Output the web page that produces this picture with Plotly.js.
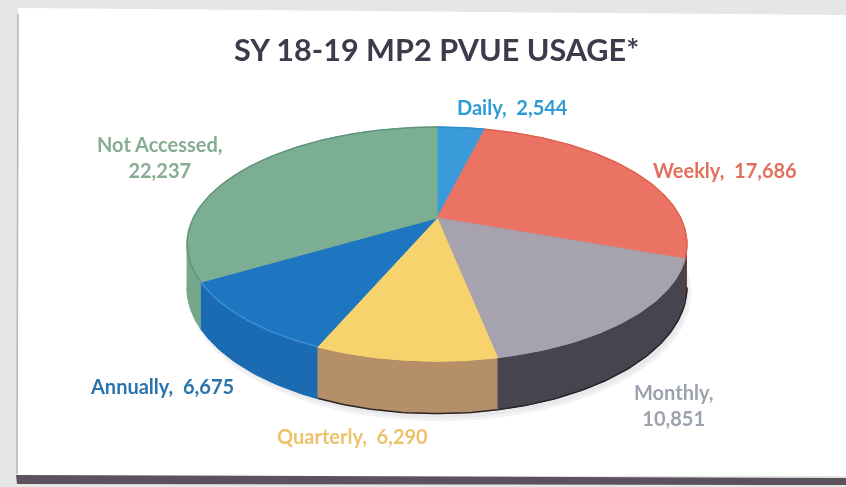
<!DOCTYPE html>
<html>
<head>
<meta charset="utf-8">
<script src="https://cdn.plot.ly/plotly-3.0.1.min.js"></script>
<style>html,body{margin:0;padding:0;background:#e6e6e6;overflow:hidden}#c{width:846px;height:487px;filter:blur(0.45px)}</style>
</head>
<body>
<div id="c"></div>
<script>
// Data
const categories = ['Daily', 'Weekly', 'Monthly', 'Quarterly', 'Annually', 'Not Accessed'];
const values = [2544, 17686, 10851, 6290, 6675, 22237];
const topColors = ['#3a9bdb', '#ea7363', '#a6a2ae', '#f6d36c', '#1e76c0', '#7bae92'];
const wallColors = ['#2f7fb5', '#5a3a3c', '#47434f', '#b48f68', '#1b6bb3', '#74a88b'];
const rimColors = ['#2f8ccb', '#e0604f', '#a6a2ae', '#f6d36c', '#3a8fd6', '#5f9578'];
const labelColors = ['#2e9bd6', '#e2705c', '#9da3ae', '#eec26c', '#2a74ae', '#86ad94'];
const labelText = ['Daily,  2,544', 'Weekly,  17,686', 'Monthly,<br>10,851', 'Quarterly,  6,290', 'Annually,  6,675', 'Not Accessed,<br>22,237'];
const labelX = [512, 725, 673, 352, 162, 160];
const labelY = [107, 170, 405, 436, 386, 157];

// Perspective view of the pie disc
const cx = 437, cy = 218, sx = 243.7, sy = 111.2, k = 0.222, depth = 41;
const proj = (deg, r = 1) => {
  const t = deg * Math.PI / 180, u = r * Math.sin(t), v = r * Math.cos(t), w = 1 + k * v;
  return { x: cx + sx * u / w, y: cy - sy * v / w, d: depth / w };
};
const arc = (a, b) => {
  const n = Math.max(2, Math.ceil(Math.abs(b - a))), out = [];
  for (let i = 0; i <= n; i++) out.push(proj(a + (b - a) * i / n));
  return out;
};
const total = values.reduce((s, v) => s + v, 0);
const traces = [];
const poly = (pts, fill, line, lw) => traces.push({
  type: 'scatter', mode: 'lines', x: pts.map(p => p.x), y: pts.map(p => p.y),
  fill: 'toself', fillcolor: fill, line: { color: line || fill, width: lw === undefined ? 1 : lw },
  hoverinfo: 'skip', showlegend: false
});
const stroke = (pts, color, width) => traces.push({
  type: 'scatter', mode: 'lines', x: pts.map(p => p.x), y: pts.map(p => p.y),
  line: { color, width }, hoverinfo: 'skip', showlegend: false
});

// Soft ground shadow
const rim = arc(0, 360);
poly(rim.map(p => ({ x: p.x + 3, y: p.y + p.d + 6 })), '#e9e9ec', '#f2f2f4', 3);

// Slices
let acc = 0;
const slices = values.map(v => { const a = acc / total * 360; acc += v; return [a, acc / total * 360]; });

// Side walls (visible between the two silhouette angles)
const leftA = 257, rightA = 103;
slices.forEach(([a, b], i) => {
  const s = Math.max(a, rightA), e = Math.min(b, leftA);
  if (e <= s) return;
  const top = arc(s, e), bot = top.slice().reverse().map(p => ({ x: p.x, y: p.y + p.d }));
  poly(top.concat(bot), wallColors[i]);
  stroke(bot, i === 1 || i === 2 || i === 3 ? '#2b2428' : wallColors[i], 1.5);
});

// Top faces
slices.forEach(([a, b], i) => {
  const pts = [{ x: cx, y: cy }].concat(arc(a, b), [{ x: cx, y: cy }]);
  poly(pts, topColors[i]);
  stroke(arc(a, b), rimColors[i], 1.5);
});

const annotations = [{
  text: '<b>SY 18-19 MP2 PVUE USAGE*</b>', x: 436, y: 49, xref: 'x', yref: 'y', showarrow: false,
  font: { family: 'Lato, sans-serif', size: 30.6, color: '#3b3b4b' }
}].concat(categories.map((c, i) => ({
  text: '<b>' + labelText[i] + '</b>', x: labelX[i], y: labelY[i], xref: 'x', yref: 'y', showarrow: false,
  font: { family: 'Lato, sans-serif', size: 20, color: labelColors[i] }, align: 'center'
})));

const layout = {
  width: 846, height: 487, margin: { l: 0, r: 0, t: 0, b: 0 },
  paper_bgcolor: '#e6e6e6', plot_bgcolor: '#e6e6e6', showlegend: false,
  xaxis: { range: [0, 846], visible: false, fixedrange: true },
  yaxis: { range: [487, 0], visible: false, fixedrange: true },
  shapes: [
    { type: 'path', xref: 'x', yref: 'y', path: 'M18,8 L846,15 L846,476 L17,476 Z', fillcolor: '#ffffff', line: { width: 0 }, layer: 'below' },
    { type: 'line', xref: 'x', yref: 'y', x0: 18, x1: 17, y0: 14, y1: 474, line: { color: '#b5b5b5', width: 1.5 }, layer: 'below' },
    { type: 'path', xref: 'x', yref: 'y', path: 'M16,475 L846,478 L846,485 L17,484 Z', fillcolor: '#5c525e', line: { width: 0 }, layer: 'below' }
  ],
  annotations
};
Plotly.newPlot('c', traces, layout, { displayModeBar: false, staticPlot: true });
</script>
</body>
</html>
